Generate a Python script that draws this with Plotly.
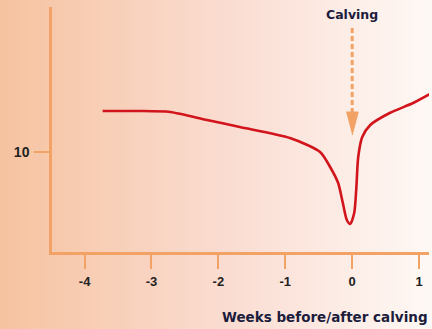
import plotly.graph_objects as go

# curve: weeks relative to calving vs value
weeks = [-3.73, -3.2, -2.72, -2.17, -1.68, -0.93, -0.48, -0.33, -0.21, -0.14,
         -0.08, -0.03, 0.03, 0.06, 0.09, 0.15, 0.27, 0.56, 0.91, 1.19]
values = [12.05, 12.05, 12.0, 11.6, 11.25, 10.7, 10.0, 9.25, 8.45, 7.45,
          6.6, 6.4, 6.95, 8.1, 9.75, 10.75, 11.35, 11.95, 12.45, 12.95]

x_ticks = [-4, -3, -2, -1, 0, 1]
x_tick_text = ["-4", "-3", "-2", "-1", "0", "1"]
y_ticks = [10]

# calving marker (dashed arrow at week 0)
calving_week = 0
arrow_top, arrow_head_base, arrow_tip = 16.2, 12.0, 10.85
arrow_half_width = 0.09

W, H = 432, 329
L, R, T, B = 52, 3, 7, 77

ORANGE = "#f2a264"
RED = "#d2141c"
NAVY = "#1c1c3c"

fig = go.Figure()

# dashed shaft
fig.add_trace(go.Scatter(
    x=[calving_week, calving_week], y=[arrow_top, arrow_head_base],
    mode="lines", line=dict(color=ORANGE, width=3, dash="5px,3px"),
    hoverinfo="skip", showlegend=False))
# arrowhead
fig.add_trace(go.Scatter(
    x=[calving_week - arrow_half_width, calving_week + arrow_half_width, calving_week],
    y=[arrow_head_base, arrow_head_base, arrow_tip],
    mode="lines", fill="toself", fillcolor=ORANGE, line=dict(color=ORANGE, width=1),
    hoverinfo="skip", showlegend=False))

fig.add_trace(go.Scatter(
    x=weeks, y=values, mode="lines",
    line=dict(color=RED, width=2.6, shape="spline", smoothing=0.7),
    hoverinfo="skip", showlegend=False))


def mix(c1, c2, t):
    a = [int(c1[i:i + 2], 16) for i in (1, 3, 5)]
    b = [int(c2[i:i + 2], 16) for i in (1, 3, 5)]
    return "#%02x%02x%02x" % tuple(round(a[k] + (b[k] - a[k]) * t) for k in range(3))


# horizontal peach -> white background gradient
stops = [(0.0, "#f6c3a0"), (0.5, "#fadbcf"), (1.0, "#fef8f5")]
pw, ph = W - L - R, H - T - B
n = 60
shapes = []
for i in range(n):
    t = (i + 0.5) / n
    for (s0, c0), (s1, c1) in zip(stops, stops[1:]):
        if s0 <= t <= s1:
            col = mix(c0, c1, (t - s0) / (s1 - s0))
    x0 = (i * W / n - L) / pw
    x1 = ((i + 1) * W / n - L + 1) / pw
    shapes.append(dict(type="rect", xref="paper", yref="paper",
                       x0=x0, x1=x1, y0=-B / ph, y1=1 + T / ph,
                       fillcolor=col, line=dict(width=0), layer="below"))

tick_font = dict(family="Liberation Sans", size=13, color="#222")

fig.update_layout(
    width=W, height=H,
    margin=dict(l=L, r=R, t=T, b=B, autoexpand=False),
    paper_bgcolor="#f6c3a0", plot_bgcolor="rgba(0,0,0,0)",
    shapes=shapes,
    font=dict(family="Liberation Sans", size=12, color="#222"),
    xaxis=dict(range=[-4.487, 1.148], tickvals=x_ticks,
               ticktext=["<b>%s</b>" % t for t in x_tick_text],
               showgrid=False, zeroline=False, automargin=False,
               showline=True, linecolor=ORANGE, linewidth=2.5,
               ticks="outside", ticklen=14, tickwidth=2, tickcolor=ORANGE,
               tickfont=tick_font, ticklabelstandoff=2),
    yaxis=dict(range=[5, 17.25], tickvals=y_ticks,
               ticktext=["<b>%d</b>" % v for v in y_ticks],
               showgrid=False, zeroline=False, automargin=False,
               showline=True, linecolor=ORANGE, linewidth=2.5,
               ticks="outside", ticklen=15, tickwidth=2, tickcolor=ORANGE,
               tickfont=dict(family="Liberation Sans", size=14, color="#222"),
               ticklabelstandoff=2),
    annotations=[
        dict(text="<b>Calving</b>", x=calving_week, y=(252 - 15) / 245, xref="x", yref="paper",
             yanchor="middle", showarrow=False,
             font=dict(family="DejaVu Sans", size=12.5, color=NAVY)),
        dict(text="<b>Weeks before/after calving</b>", x=1.003, y=(252 - 317) / 245,
             xref="paper", yref="paper", xanchor="right", yanchor="middle",
             showarrow=False, font=dict(family="DejaVu Sans", size=13.5, color=NAVY)),
    ],
)

# drop the browser's default 8px body margin so the figure fills the window
fig.write_html("out.html", config={"displayModeBar": False},
               post_script="document.body.style.margin='0';")
